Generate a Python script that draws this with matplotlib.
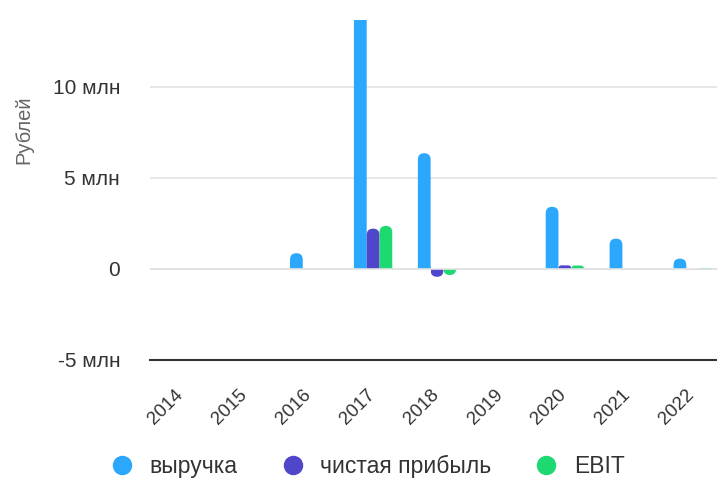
import matplotlib
matplotlib.use("Agg")
import matplotlib.pyplot as plt
from matplotlib.patches import FancyBboxPatch, Rectangle
from matplotlib.lines import Line2D
from matplotlib.ticker import FuncFormatter, FixedLocator
import numpy as np

plt.rcParams['font.family'] = ['Liberation Sans', 'DejaVu Sans']

years = ['2014', '2015', '2016', '2017', '2018', '2019', '2020', '2021', '2022']
# values in millions of rubles
revenue = [0, 0, 0.85, 14.5, 6.35, 0, 3.4, 1.65, 0.55]
net_profit = [0, 0, 0, 2.2, -0.45, 0, 0.18, 0, -0.03]
ebit = [0, 0, 0, 2.35, -0.35, 0, 0.17, 0, 0.03]

series = [
    ('выручка', revenue, '#2ba7fb'),
    ('чистая прибыль', net_profit, '#4f46c9'),
    ('EBIT', ebit, '#1ed872'),
]

W, H = 717, 484
fig = plt.figure(figsize=(W / 100, H / 100), dpi=100)
ax = fig.add_axes([150 / W, (H - 359.5) / H, 1 - 150 / W, (359.5 - 20) / H])

x = np.arange(len(years))
bw = 0.2
ymin, ymax = -5, 13.68
xmin, xmax = -0.49, 8.38
ax.set_xlim(xmin, xmax)
ax.set_ylim(ymin, ymax)

# pixel scale of each data unit, used to keep the rounded ends circular
px_x = ax.get_position().width * W / (xmax - xmin)
px_y = ax.get_position().height * H / (ymax - ymin)
aspect = px_x / px_y
r = 0.1  # corner radius in x units


def rounded_bar(left, v, color):
    h = abs(v)
    rr = min(r, h / aspect)
    bottom = min(0, v)
    # draw the box past the zero line so only the outer end is rounded
    ext = min(h, rr * aspect)
    y0 = bottom - ext if v > 0 else bottom
    ax.add_patch(FancyBboxPatch((left, y0), bw, h + ext,
                                boxstyle=f"round,pad=0,rounding_size={rr}",
                                mutation_aspect=aspect, fc=color, ec='none',
                                zorder=3))
    # hide the part pushed past the zero line
    ax.add_patch(Rectangle((left, -ext if v > 0 else 0), bw, ext,
                           fc='white', ec='none', zorder=3.5))


for i, (name, vals, color) in enumerate(series):
    offs = (i - 1) * bw
    for xi, v in zip(x, vals):
        if v != 0:
            rounded_bar(xi + offs - bw / 2, v, color)

ax.yaxis.set_major_locator(FixedLocator([-5, 0, 5, 10]))
ax.yaxis.set_major_formatter(FuncFormatter(
    lambda v, p: '0' if v == 0 else f'{v:g} млн'))
ax.axhline(0, color='#e3e3e3', lw=1.2, zorder=3.6)
ax.grid(axis='y', color='#e3e3e3', lw=1.2, zorder=0)
ax.set_axisbelow(True)

ax.set_xticks(x - 0.11)
ax.set_xticklabels(years, rotation=45, ha='right', rotation_mode='anchor')
ax.tick_params(axis='x', length=0, pad=19, labelsize=13.5, labelcolor='#333333')
ax.tick_params(axis='y', length=0, pad=21.5, labelsize=15, labelcolor='#333333')

for s in ['top', 'right', 'left']:
    ax.spines[s].set_visible(False)
ax.spines['bottom'].set_color('#333333')
ax.spines['bottom'].set_linewidth(1.5)

ax.set_ylabel('Рублей', fontsize=14.5, color='#666666')
ax.yaxis.set_label_coords(-0.206, 0.676)

handles = [Line2D([], [], marker='o', ls='none', ms=13, mfc=c, mec=c,
                  label=n) for n, _, c in series]
fig.legend(handles=handles, loc='center', bbox_to_anchor=(0.511, 0.036),
           ncol=3, frameon=False, fontsize=16.5, labelcolor='#333333',
           handletextpad=0.6, columnspacing=1.8, handlelength=1.2)

fig.savefig('out.png', dpi=100)
